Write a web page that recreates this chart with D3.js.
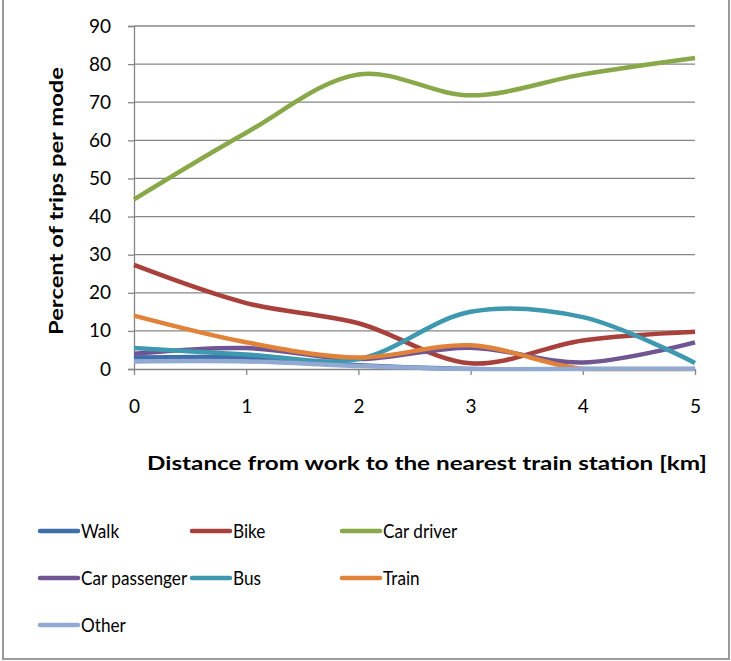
<!DOCTYPE html>
<html>
<head>
<meta charset="utf-8">
<script src="https://cdn.jsdelivr.net/npm/d3@7"></script>
<style>
  body { margin: 0; background: #fff; }
  text { font-family: Lato, "Open Sans", sans-serif; fill: #000; }
</style>
</head>
<body>
<svg width="731" height="661"></svg>
<script>
// distance to nearest train station (km)
var distances = [0, 1, 2, 3, 4, 5];
var modes = ["Walk", "Bike", "Car driver", "Car passenger", "Bus", "Train", "Other"];
// percent of trips per mode, one array per mode
var walk        = [3, 3, 1, 0, 0, 0];
var bike        = [27.3, 17.3, 12, 1.5, 7.5, 9.8];
var carDriver   = [44.5, 62, 77.3, 71.8, 77.3, 81.6];
var carPass     = [4, 5.5, 2.6, 5.6, 1.7, 7];
var bus         = [5.5, 3.8, 2.6, 15, 13.6, 1.6];
var train       = [14, 7, 3, 6.2, 0, 0];
var other       = [2, 2, 0.8, 0, 0, 0];
var yTicks = [0, 10, 20, 30, 40, 50, 60, 70, 80, 90];
var xTicks = [0, 1, 2, 3, 4, 5];

var series = [walk, bike, carDriver, carPass, bus, train, other];
var colors = ["#3f6fab", "#a8403c", "#89a84a", "#6f5592", "#3e98b0", "#e0823a", "#92aad2"];

var svg = d3.select("svg");

// outer chart border (top edge cut off)
svg.append("rect")
    .attr("x", 3).attr("y", -10)
    .attr("width", 726).attr("height", 669)
    .attr("fill", "none")
    .attr("stroke", "#9a9a9a")
    .attr("stroke-width", 2);

var x = d3.scaleLinear().domain([0, 5]).range([134, 695]);
var y = d3.scaleLinear().domain([0, 90]).range([369, 26]);

// keep smoothed curves from dipping below the axis
svg.append("clipPath").attr("id", "plot")
  .append("rect")
    .attr("x", x(0) - 5).attr("y", 0)
    .attr("width", x(5) - x(0) + 10).attr("height", y(0) + 2.3);

// gridlines
svg.append("g")
  .selectAll("line")
  .data(yTicks.slice(1))
  .enter().append("line")
    .attr("x1", x(0)).attr("x2", x(5))
    .attr("y1", function(d) { return y(d); })
    .attr("y2", function(d) { return y(d); })
    .attr("stroke", "#868686")
    .attr("stroke-width", 1.3);

// y axis
var yAxis = svg.append("g")
    .attr("transform", "translate(" + x(0) + ",0)")
    .call(d3.axisLeft(y).tickValues(yTicks).tickSize(6).tickPadding(17).tickFormat(d3.format("d")));
yAxis.selectAll("line, path").attr("stroke", "#868686").attr("stroke-width", 1.3);
yAxis.selectAll("text").style("font-size", "19px").attr("fill", "#000");

// x axis
var xAxis = svg.append("g")
    .attr("transform", "translate(0," + y(0) + ")")
    .call(d3.axisBottom(x).tickValues(xTicks).tickSize(6).tickPadding(25)
      .tickSizeOuter(0).tickFormat(d3.format("d")));
xAxis.selectAll("line, path").attr("stroke", "#868686").attr("stroke-width", 1.3);
xAxis.selectAll("text").style("font-size", "19px").attr("fill", "#000");

// axis titles
svg.append("text")
    .attr("transform", "translate(63,201) rotate(-90)")
    .attr("text-anchor", "middle")
    .attr("font-weight", "bold")
    .style("font-size", "18px")
    .attr("textLength", 268)
    .attr("lengthAdjust", "spacingAndGlyphs")
    .text("Percent of trips per mode");

svg.append("text")
    .attr("x", 427).attr("y", 470)
    .attr("text-anchor", "middle")
    .attr("font-weight", "bold")
    .style("font-size", "18px")
    .attr("textLength", 560)
    .attr("lengthAdjust", "spacingAndGlyphs")
    .text("Distance from work to the nearest train station [km]");

// smoothed lines
var line = d3.line()
    .x(function(d, i) { return x(distances[i]); })
    .y(function(d) { return y(d); })
    .curve(d3.curveCatmullRom.alpha(0.5));

svg.append("g")
    .attr("clip-path", "url(#plot)")
  .selectAll("path")
  .data(series)
  .enter().append("path")
    .attr("d", line)
    .attr("fill", "none")
    .attr("stroke", function(d, i) { return colors[i]; })
    .attr("stroke-width", 4.5)
    .attr("stroke-linejoin", "round")
    .attr("stroke-linecap", "butt");

// legend
var legCols = [40, 192, 342];
var legRows = [531, 578, 625];
var leg = svg.append("g")
  .selectAll("g")
  .data(modes)
  .enter().append("g")
    .attr("transform", function(d, i) {
      return "translate(" + legCols[i % 3] + "," + legRows[Math.floor(i / 3)] + ")";
    });
leg.append("line")
    .attr("x1", 0).attr("x2", 38)
    .attr("stroke", function(d, i) { return colors[i]; })
    .attr("stroke-width", 4.5)
    .attr("stroke-linecap", "round");
// Calibri-like narrower text
leg.append("text")
    .attr("transform", "translate(41,7) scale(0.86,1)")
    .style("font-size", "20px")
    .text(function(d) { return d; });
</script>
</body>
</html>
